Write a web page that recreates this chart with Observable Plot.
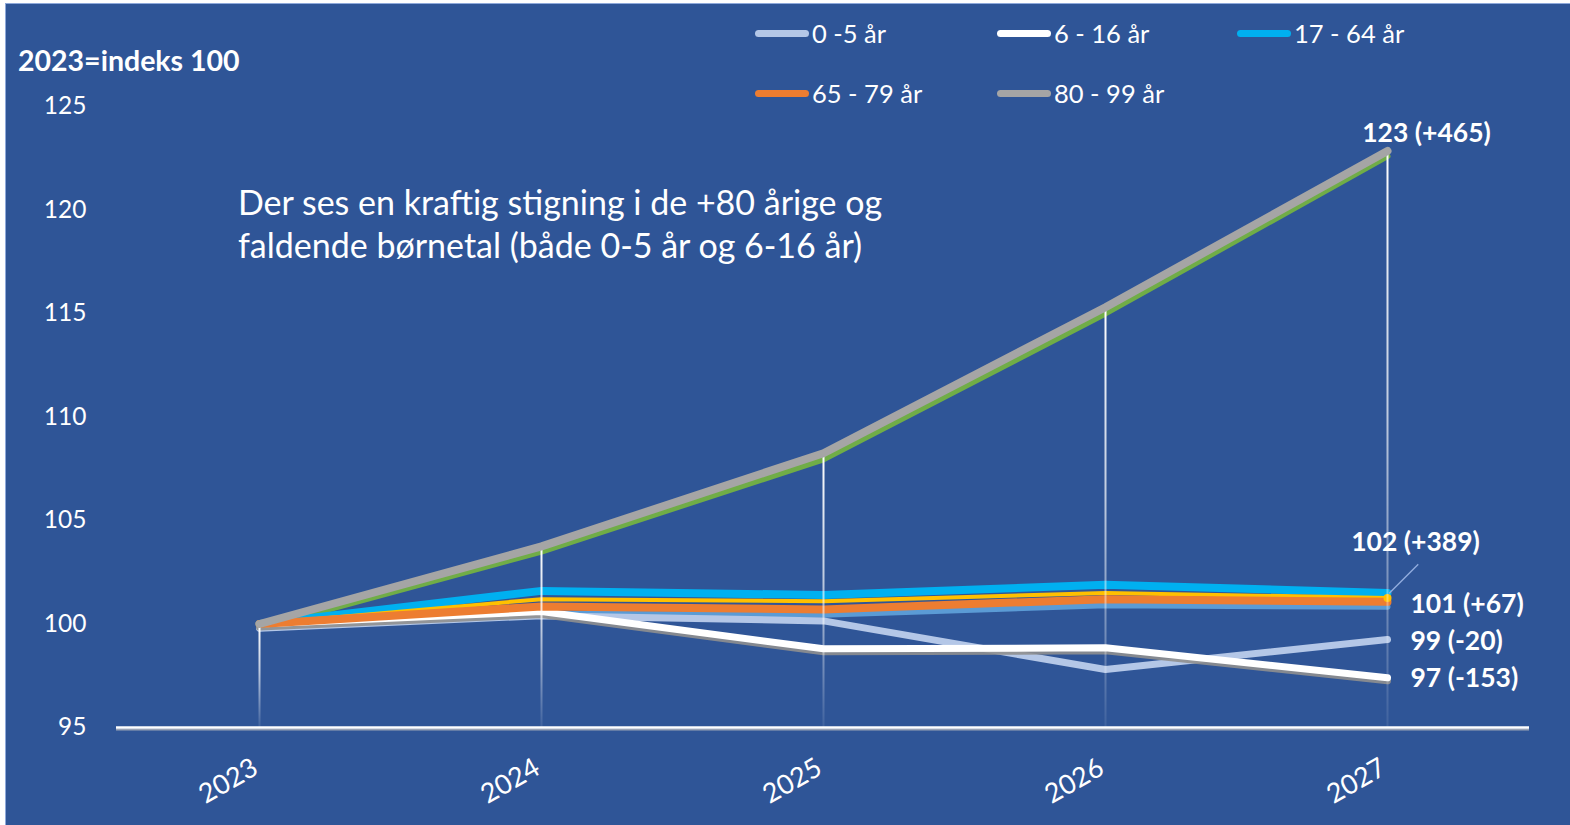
<!DOCTYPE html>
<html>
<head>
<meta charset="utf-8">
<script src="https://cdn.jsdelivr.net/npm/d3@7"></script>
<script src="https://cdn.jsdelivr.net/npm/@observablehq/plot@0.6"></script>
<style>
  html, body { margin: 0; padding: 0; background: #ffffff; width: 1570px; height: 825px; overflow: hidden; }
  body { position: relative; font-family: Lato, "Open Sans", sans-serif; }
  #frame { position: absolute; left: 5px; top: 3px; width: 1564px; height: 821px; background: #2F5597; border-left: 1px solid #8EA9DB; border-top: 1px solid #8EA9DB; }
  #chart { position: absolute; left: 6px; top: 4px; }
  .ov { position: absolute; color: #ffffff; white-space: nowrap; }
  #ytitle { left: 18px; top: 45px; font-size: 28.5px; font-weight: 700; line-height: 30px; }
  #note { left: 238px; top: 180px; font-size: 34px; line-height: 43px; }
  .leg { position: absolute; display: flex; align-items: center; color: #fff; font-size: 25.5px; line-height: 28px; }
  .leg .sw { width: 54px; height: 7px; border-radius: 4px; margin-right: 3px; }
</style>
</head>
<body>
<div id="frame"></div>
<div id="chart"></div>
<div id="ytitle" class="ov">2023=indeks 100</div>
<div id="note" class="ov">Der ses en kraftig stigning i de +80 årige og<br>faldende børnetal (både 0-5 år og 6-16 år)</div>
<div id="legend"></div>
<script>
// ---- data ----
const years = [2023, 2024, 2025, 2026, 2027];
const age0_5   = [99.8, 100.4, 100.15, 97.8, 99.25];
const age6_16  = [100, 100.6, 98.8, 98.85, 97.4];
const age17_64 = [100, 101.6, 101.4, 101.9, 101.5];
const age65_79 = [100, 100.85, 100.7, 101.2, 101.07];
const age80_99 = [100, 103.75, 108.25, 115.3, 122.85];
// series drawn in the chart but not listed in the legend
const hiddenGreen = [99.8, 103.5, 107.95, 115.0, 122.6];
const hiddenYellow = [100, 101.2, 101.1, 101.5, 101.26];
const hiddenSteel = [99.8, 100.5, 100.45, 100.9, 100.83];
const yTicks = [95, 100, 105, 110, 115, 120, 125];
const legendNames = ["0 -5 år", "6 - 16 år", "17 - 64 år", "65 - 79 år", "80 - 99 år"];
const endLabels = ["123 (+465)", "102 (+389)", "101 (+67)", "99 (-20)", "97 (-153)"];

const rows = vals => years.map((year, i) => ({year, value: vals[i]}));

// legend
const legendColors = ["#B4C7E7", "#FFFFFF", "#00B0F0", "#ED7D31", "#A5A5A5"];
const legendPos = [[755, 33], [997, 33], [1237, 33], [755, 93], [997, 93]];
const legend = document.getElementById("legend");
legendNames.forEach((name, i) => {
  const el = document.createElement("div");
  el.className = "leg";
  el.style.left = legendPos[i][0] + "px";
  el.style.top = (legendPos[i][1] - 14) + "px";
  el.innerHTML = `<div class="sw" style="background:${legendColors[i]}"></div><span>${name}</span>`;
  legend.appendChild(el);
});

const lineOpts = (color, w, extra = {}) => ({x: "year", y: "value", stroke: color, strokeWidth: w, strokeLinecap: "round", strokeLinejoin: "round", ...extra});
const last = years.length - 1;
const lab = {x: "year", y: "value", text: "t", fill: "#fff", fontSize: 26.5, fontWeight: 700};

const marks = [
  // axis baseline with shadow
  Plot.ruleY([95], {stroke: "#9aa3b5", strokeWidth: 2, dy: 2}),
  Plot.ruleY([95], {stroke: "#ffffff", strokeWidth: 2.5}),
  Plot.line(rows(hiddenGreen), lineOpts("#70AD47", 6)),
  Plot.line(rows(hiddenSteel), lineOpts("#5B9BD5", 6)),
  Plot.line(rows(age0_5), lineOpts("#B4C7E7", 7)),
  Plot.line(rows(age6_16), lineOpts("#8f8f8f", 7, {dy: 3, opacity: 0.9})),
  Plot.line(rows(age6_16), lineOpts("#FFFFFF", 7)),
  Plot.line(rows(age17_64), lineOpts("#00B0F0", 8)),
  Plot.line(rows(hiddenYellow), lineOpts("#FFC000", 4)),
  Plot.line(rows(age65_79), lineOpts("#ED7D31", 8)),
  Plot.dot([{year: years[last], value: hiddenYellow[last]}], {x: "year", y: "value", r: 4, fill: "#FFC000"}),
  // drop lines from the highest series
  ...years.map((yr, i) => Plot.ruleX([{year: yr, top: age80_99[i]}], {x: "year", y1: "top", y2: 95, stroke: `url(#drop${yr})`, strokeWidth: 2})),
  Plot.line(rows(age80_99), lineOpts("#A5A5A5", 8)),
  // leader line for 17-64
  Plot.vector([{year: years[last], value: age17_64[last]}], {x: "year", y: "value", length: 40, rotate: 45, anchor: "start", dx: 2, stroke: "#8FAADC", strokeWidth: 1.5,
    shape: {draw(ctx, l) { ctx.moveTo(0, 0); ctx.lineTo(0, -l); }}}),
  // end labels
  Plot.text([{year: years[last], value: age80_99[last], t: endLabels[0]}], {...lab, dx: 39, dy: -17, textAnchor: "middle"}),
  Plot.text([{year: years[last], value: age17_64[last], t: endLabels[1]}], {...lab, dx: 28, dy: -50, textAnchor: "middle"}),
  Plot.text([{year: years[last], value: hiddenSteel[last], t: endLabels[2]}], {...lab, dx: 23, dy: -2, textAnchor: "start"}),
  Plot.text([{year: years[last], value: age0_5[last], t: endLabels[3]}], {...lab, dx: 23, dy: 2, textAnchor: "start"}),
  Plot.text([{year: years[last], value: age6_16[last], t: endLabels[4]}], {...lab, dx: 23, dy: 1, textAnchor: "start"}),
  Plot.axisY({ticks: yTicks, tickSize: 0, tickPadding: 30, fontSize: 24.5, fill: "#fff", label: null}),
  Plot.axisX({tickSize: 0, tickPadding: 38, dx: -4, tickRotate: -30, fontSize: 27, fill: "#fff", label: null, tickFormat: d => `${d}`})
];

const plot = Plot.plot({
  width: 1564,
  height: 821,
  marginLeft: 110,
  marginRight: 41,
  marginTop: 102,
  marginBottom: 98,
  style: {background: "transparent", color: "#fff", fontFamily: "Lato, 'Open Sans', sans-serif", overflow: "visible"},
  x: {type: "point", domain: years, padding: 0.5},
  y: {domain: [95, 125]},
  marks
});

// gradients for the drop lines (fade toward the baseline)
const ys = plot.scale("y");
const ns = "http://www.w3.org/2000/svg";
const defs = document.createElementNS(ns, "defs");
years.forEach((yr, i) => {
  const g = document.createElementNS(ns, "linearGradient");
  g.setAttribute("id", `drop${yr}`);
  g.setAttribute("gradientUnits", "userSpaceOnUse");
  g.setAttribute("x1", 0); g.setAttribute("x2", 0);
  g.setAttribute("y1", ys.apply(age80_99[i]));
  g.setAttribute("y2", ys.apply(95));
  [[0, 1], [0.45, 0.7], [1, 0.08]].forEach(([o, a]) => {
    const s = document.createElementNS(ns, "stop");
    s.setAttribute("offset", o);
    s.setAttribute("stop-color", "#ffffff");
    s.setAttribute("stop-opacity", a);
    g.appendChild(s);
  });
  defs.appendChild(g);
});
plot.insertBefore(defs, plot.firstChild);
document.getElementById("chart").appendChild(plot);
</script>
</body>
</html>
